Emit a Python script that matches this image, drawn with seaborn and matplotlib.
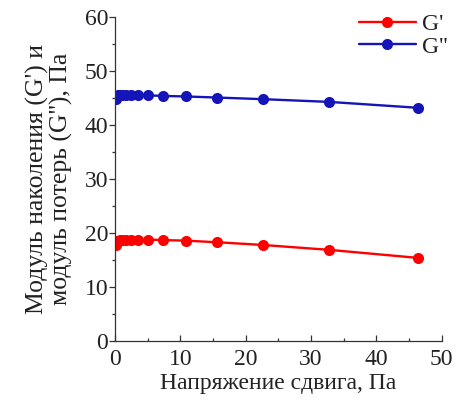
import matplotlib
matplotlib.use("Agg")
import matplotlib.pyplot as plt
import seaborn as sns
import pandas as pd
from matplotlib.ticker import MultipleLocator

# Shear stress sweep, Pa
stress = [0.11, 0.16, 0.24, 0.35, 0.52, 0.76, 1.1, 1.6, 2.4, 3.5,
          5.1, 7.4, 10.8, 15.6, 22.6, 32.7, 46.4]
# Storage modulus G', Pa
g_storage = [17.8, 18.1, 18.3, 18.5, 18.6, 18.7, 18.7, 18.8, 18.8, 18.8,
             18.8, 18.7, 18.6, 18.3, 17.8, 16.9, 15.4]
# Loss modulus G'', Pa
g_loss = [44.9, 45.1, 45.3, 45.4, 45.5, 45.5, 45.5, 45.5, 45.5, 45.5,
          45.5, 45.4, 45.3, 45.1, 44.8, 44.3, 43.2]

series_names = ["G'", "G''"]
series_colors = ["#FF0000", "#1414B8"]

sns.set_theme(style="ticks")
plt.rcParams["font.family"] = ["Liberation Serif", "DejaVu Serif"]

FS = 17

df = pd.concat([
    pd.DataFrame({"x": stress, "y": g_storage, "s": series_names[0]}),
    pd.DataFrame({"x": stress, "y": g_loss, "s": series_names[1]}),
])

fig = plt.figure(figsize=(4.64, 4.07), dpi=100)
ax = fig.add_axes([0.248, 0.162, 0.704, 0.796])

sns.lineplot(data=df, x="x", y="y", hue="s", palette=series_colors,
             marker="o", markersize=8, markeredgewidth=0, linewidth=1.7,
             ax=ax, legend=True)

ax.set_xlim(0, 50)
ax.set_ylim(0, 60)
ax.xaxis.set_major_locator(MultipleLocator(10))
ax.xaxis.set_minor_locator(MultipleLocator(5))
ax.yaxis.set_major_locator(MultipleLocator(10))
ax.yaxis.set_minor_locator(MultipleLocator(5))

for side in ("top", "right"):
    ax.spines[side].set_visible(False)
for side in ("left", "bottom"):
    ax.spines[side].set_color("#333333")
    ax.spines[side].set_linewidth(0.9)

ax.tick_params(axis="x", which="major", direction="in", length=4, width=0.9,
               labelsize=FS, colors="#333333", labelcolor="#222222", pad=6)
ax.tick_params(axis="x", which="minor", direction="in", length=2.5, width=0.9,
               colors="#333333")
ax.tick_params(axis="y", which="major", direction="out", length=4, width=0.9,
               labelsize=FS, colors="#333333", labelcolor="#222222", pad=1)
ax.tick_params(axis="y", which="minor", direction="out", length=2.5, width=0.9,
               colors="#333333")

ax.set_xlabel("Напряжение сдвига, Па", fontsize=FS, color="#222222", labelpad=2)
ax.set_ylabel("Модуль наколения (G') и\nмодуль потерь (G''), Па",
              fontsize=18.5, color="#222222", labelpad=8, linespacing=1.1)

leg = ax.legend(loc="upper right", bbox_to_anchor=(1.06, 1.055), frameon=False,
                fontsize=FS, handlelength=2.4, handletextpad=0.25,
                borderaxespad=0.2, labelspacing=0.05)
for t in leg.get_texts():
    t.set_color("#222222")

fig.savefig("out.png", dpi=100)
